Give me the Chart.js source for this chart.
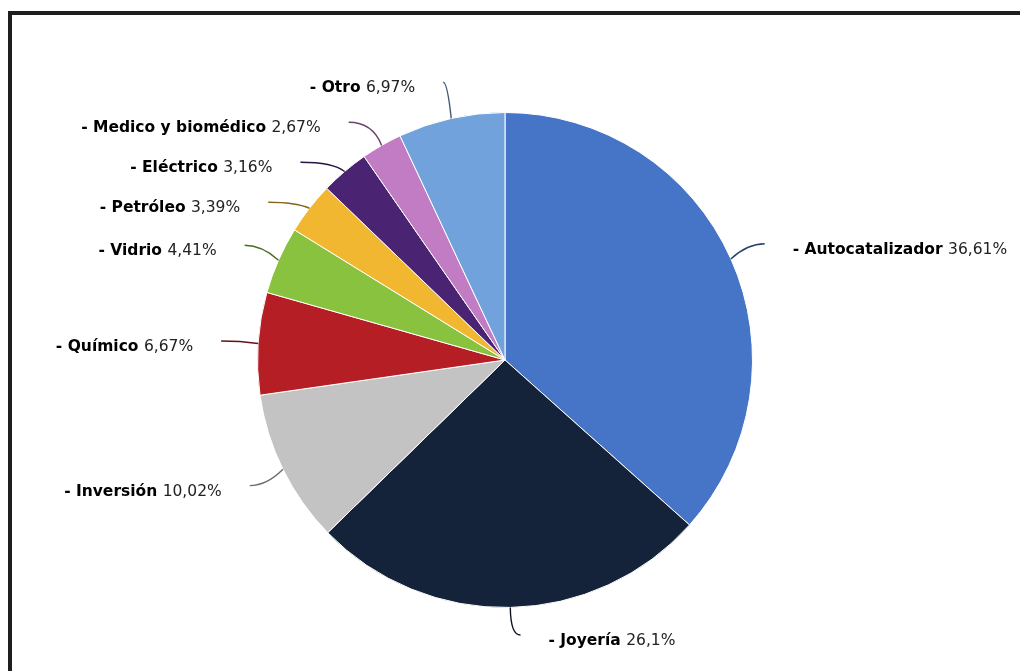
<!DOCTYPE html>
<html>
<head>
<meta charset="utf-8">
<script src="https://cdn.jsdelivr.net/npm/chart.js@4"></script>
<style>
  body { margin: 0; background: #fff; }
  #wrap { width: 1020px; height: 671px; position: relative; }
</style>
</head>
<body>
<div id="wrap"><canvas id="myChart"></canvas></div>
<script>
const categories = [
    'Autocatalizador',
    'Joyería',
    'Inversión',
    'Químico',
    'Vidrio',
    'Petróleo',
    'Eléctrico',
    'Medico y biomédico',
    'Otro',
];
const shares = [36.61, 26.1, 10.02, 6.67, 4.41, 3.39, 3.16, 2.67, 6.97];
const sliceColors = [
    '#4674c6',
    '#14233a',
    '#c3c3c3',
    '#b41e24',
    '#88c23e',
    '#f2b730',
    '#4a2472',
    '#c27cc4',
    '#72a2dc',
];

// darker version of a slice colour for its connector
function darken(hex, f) {
    const n = parseInt(hex.slice(1), 16);
    const r = Math.round(((n >> 16) & 255) * f);
    const g = Math.round(((n >> 8) & 255) * f);
    const b = Math.round((n & 255) * f);
    return `rgb(${r},${g},${b})`;
}

// black frame on top and left, like the scanned figure
const framePlugin = {
    id: 'frame',
    beforeDraw(chart) {
        const ctx = chart.ctx;
        ctx.save();
        ctx.fillStyle = '#1e1e1e';
        ctx.fillRect(8, 11, 1012, 4);
        ctx.fillRect(8, 11, 4, 660);
        ctx.restore();
    }
};

// outside labels with connectors
const labelPlugin = {
    id: 'outLabels',
    afterDatasetsDraw(chart) {
        const ctx = chart.ctx;
        const arcs = chart.getDatasetMeta(0).data;
        const dist = 37, gap = 28, step = 40;
        const fontSize = '15.5px "DejaVu Sans"';
        let items = arcs.map((arc, i) => {
            const mid = (arc.startAngle + arc.endAngle) / 2;
            const r = arc.outerRadius, R = r + dist;
            return {
                i: i,
                cx: arc.x, cy: arc.y, R: R,
                ex: arc.x + Math.cos(mid) * r,
                ey: arc.y + Math.sin(mid) * r,
                ux: Math.cos(mid), uy: Math.sin(mid),
                x: arc.x + Math.cos(mid) * R,
                y: arc.y + Math.sin(mid) * R,
                left: Math.cos(mid) < 0,
                moved: false
            };
        });
        [true, false].forEach(side => {
            const list = items.filter(it => it.left === side).sort((a, b) => a.y - b.y);
            for (let k = 1; k < list.length; k++) {
                if (list[k].y < list[k - 1].y + step) {
                    list[k].y = list[k - 1].y + step;
                    list[k].moved = true;
                }
            }
        });
        items.forEach(it => {
            if (it.moved) {
                const dy = it.y - it.cy;
                const dx = Math.sqrt(Math.max(it.R * it.R - dy * dy, 0));
                it.x = it.cx + (it.left ? -dx : dx);
            }
            if (it.y > 635) {
                it.x += it.y - 635;
                it.y = 635;
            }
        });

        ctx.save();
        items.forEach(it => {
            // connector
            ctx.strokeStyle = darken(sliceColors[it.i], 0.55);
            ctx.lineWidth = 1.4;
            ctx.beginPath();
            ctx.moveTo(it.ex, it.ey);
            ctx.quadraticCurveTo(it.ex + it.ux * 18, it.y, it.x, it.y);
            ctx.stroke();

            const name = '- ' + categories[it.i] + ' ';
            const val = String(shares[it.i]).replace('.', ',') + '%';
            ctx.font = 'bold ' + fontSize;
            const w1 = ctx.measureText(name).width;
            ctx.font = fontSize;
            const w2 = ctx.measureText(val).width;
            let tx = it.left ? it.x - gap - w1 - w2 : it.x + gap;
            const ty = it.y + 6;
            ctx.textBaseline = 'middle';
            ctx.textAlign = 'left';
            ctx.fillStyle = '#000';
            ctx.font = 'bold ' + fontSize;
            ctx.fillText(name, tx, ty);
            ctx.fillStyle = '#222';
            ctx.font = fontSize;
            ctx.fillText(val, tx + w1, ty);
        });
        ctx.restore();
    }
};

const data = {
    labels: categories,
    datasets: [{
        data: shares,
        backgroundColor: sliceColors,
        borderColor: '#ffffff',
        borderWidth: 1,
    }]
};

const config = {
    type: 'pie',
    data: data,
    options: {
        responsive: true,
        maintainAspectRatio: false,
        animation: false,
        layout: {
            padding: { top: 112, bottom: 63, left: 257, right: 267 }
        },
        plugins: {
            legend: { display: false },
            tooltip: { enabled: false },
        }
    },
    plugins: [framePlugin, labelPlugin]
};

const myChart = new Chart(
    document.getElementById('myChart'),
    config
);
</script>
</body>
</html>
